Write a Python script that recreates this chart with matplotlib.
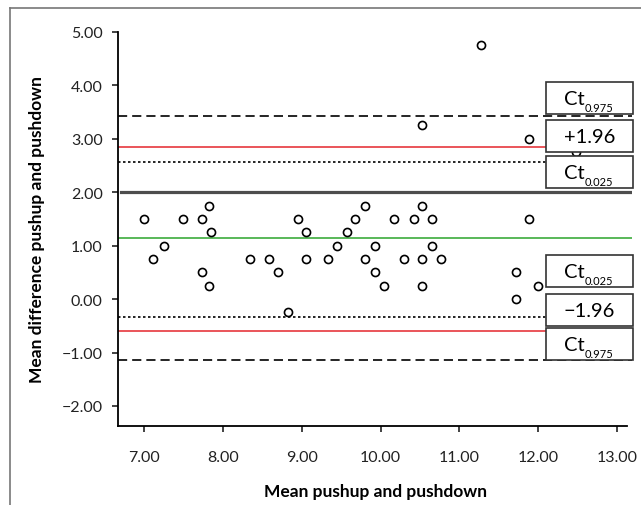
import numpy as np
import matplotlib
matplotlib.use("Agg")
import matplotlib.pyplot as plt
from matplotlib.patches import Rectangle
from matplotlib.lines import Line2D

plt.rcParams['font.family'] = ['Lato', 'DejaVu Sans']

# data: mean of pushup and pushdown vs. mean difference
mean_vals = [7.00, 7.12, 7.25, 7.50, 7.73, 7.73, 7.83, 7.85, 7.83, 8.35,
             8.58, 8.70, 8.82, 8.95, 9.05, 9.05, 9.33, 9.45, 9.57, 9.68,
             9.80, 9.80, 9.93, 9.93, 10.05, 10.17, 10.30, 10.42, 10.52, 10.52,
             10.52, 10.52, 10.65, 10.65, 10.77, 11.27, 11.72, 11.72, 11.88, 11.88,
             12.00, 12.48]
diff_vals = [1.50, 0.75, 1.00, 1.50, 1.50, 0.50, 1.75, 1.25, 0.25, 0.75,
             0.75, 0.50, -0.25, 1.50, 1.25, 0.75, 0.75, 1.00, 1.25, 1.50,
             1.75, 0.75, 1.00, 0.50, 0.25, 1.50, 0.75, 1.50, 1.75, 0.75,
             0.25, 3.25, 1.50, 1.00, 0.75, 4.75, 0.50, 0.00, 1.50, 3.00,
             0.25, 2.75]

mean_diff = 1.14
loa_upper, loa_lower = 2.84, -0.59
ci_upper_loa = (2.57, 3.43)   # Ct0.025, Ct0.975
ci_lower_loa = (-0.33, -1.14)  # Ct0.025, Ct0.975
ref_level = 2.00

xticks = [7, 8, 9, 10, 11, 12, 13]
yticks = [-2, -1, 0, 1, 2, 3, 4, 5]

fig = plt.figure(figsize=(6.41, 5.06), dpi=100)
ax = fig.add_axes([0.1841, 0.1561, 0.8019, 0.7787])

ax.axhline(ref_level, xmin=0.005, color='#4d4d4d', lw=2.3, zorder=1)
ax.axhline(mean_diff, color='#3cab3c', lw=1.2, zorder=1)
ax.axhline(loa_upper, color='#e8474c', lw=1.3, zorder=1)
ax.axhline(loa_lower, color='#e8474c', lw=1.3, zorder=1)
ax.axhline(ci_upper_loa[0], color='black', lw=1.2, ls=(0, (1.5, 1.5)), zorder=1)
ax.axhline(ci_lower_loa[0], color='black', lw=1.2, ls=(0, (1.5, 1.5)), zorder=1)
ax.axhline(ci_upper_loa[1], color='black', lw=1.2, ls=(0, (5.5, 3)), zorder=1)
ax.axhline(ci_lower_loa[1], color='black', lw=1.2, ls=(0, (5.5, 3)), zorder=1)

ax.plot(mean_vals, diff_vals, 'o', mfc='white', mec='black', mew=1.2, ms=5.8, zorder=2)

ax.set_xlim(6.67, 13.19)
ax.set_ylim(-2.375, 5.0)
ax.set_xticks(xticks)
ax.set_xticklabels(["%.2f" % v for v in xticks])
ax.set_yticks(yticks)
ax.set_yticklabels(["%.2f" % v if v >= 0 else "\u2212%.2f" % -v for v in yticks])

for s in ['top', 'right']:
    ax.spines[s].set_visible(False)
ax.spines['left'].set_linewidth(1.3)
ax.spines['bottom'].set_linewidth(1.3)
ax.spines['bottom'].set_bounds(6.67, 13.12)
ax.tick_params(axis='both', direction='out', length=4, width=1.2, labelsize=11.5, colors='#222222')
ax.tick_params(axis='x', pad=13)
ax.tick_params(axis='y', pad=7)

ax.set_xlabel('Mean pushup and pushdown', fontsize=12.5, fontweight='bold', labelpad=14)
ax.set_ylabel('Mean difference pushup and pushdown', fontsize=12.5, fontweight='bold', labelpad=12)

# label boxes at the right edge (axes fraction)
box_main = ['Ct', '+1.96', 'Ct', 'Ct', '\u22121.96', 'Ct']
box_sub = ['0.975', '', '0.025', '0.025', '', '0.975']
box_y = [0.7919, 0.6954, 0.6041, 0.3528, 0.2538, 0.1675]
box_x, box_w, box_h = 0.8327, 0.1693, 0.080
for lab, sub, y0 in zip(box_main, box_sub, box_y):
    r = Rectangle((box_x, y0), box_w, box_h, transform=ax.transAxes,
                  facecolor='white', edgecolor='#333333', lw=1.2, zorder=5, clip_on=False)
    ax.add_patch(r)
    if sub:
        ax.text(box_x + box_w * 0.44, y0 + box_h * 0.5, lab, transform=ax.transAxes,
                ha='right', va='center', fontsize=14.5, zorder=6)
        ax.text(box_x + box_w * 0.44, y0 + box_h * 0.2, sub, transform=ax.transAxes,
                ha='left', va='center', fontsize=8, zorder=6)
    else:
        ax.text(box_x + box_w / 2, y0 + box_h / 2, lab, transform=ax.transAxes,
                ha='center', va='center', fontsize=14.5, zorder=6)

# outer frame lines (cropped figure border)
fig.add_artist(Line2D([10 / 641, 1], [1 - 8.5 / 506, 1 - 8.5 / 506], color='#777777', lw=1.2))
fig.add_artist(Line2D([10 / 641, 10 / 641], [0, 1 - 8.5 / 506], color='#777777', lw=1.2))

fig.savefig('out.png', dpi=100)
